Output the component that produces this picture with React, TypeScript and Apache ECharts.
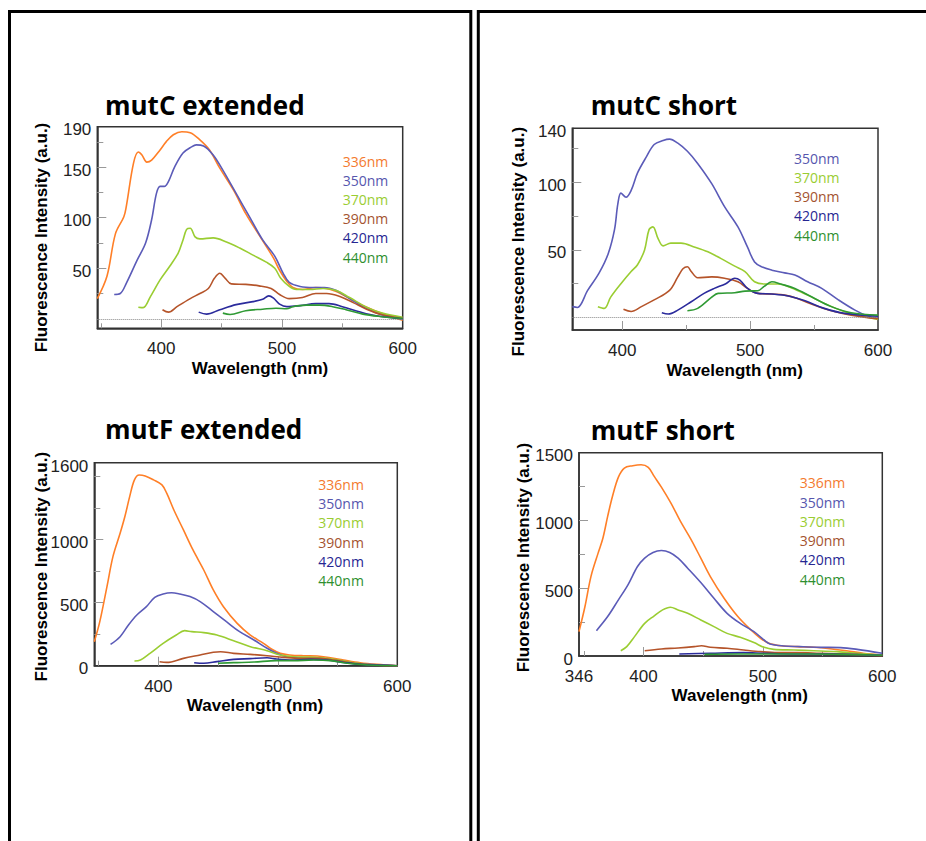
import React, { useEffect, useRef } from "react";
import * as echarts from "echarts";

// ---------- DATA ----------
const wavelengthsLabels = ["336nm", "350nm", "370nm", "390nm", "420nm", "440nm"];
const lineColors = ["#ff7f27", "#5b5bb8", "#9acd32", "#b5542a", "#2b2b9c", "#2f9a34"];
const legendColors = ["#f47a2e", "#5656ae", "#9acd32", "#a4532f", "#262692", "#2e8f2e"];

const titles = ["mutC extended", "mutC short", "mutF extended", "mutF short"];
const yAxisTitle = "Fluorescence Intensity (a.u.)";
const xAxisTitle = "Wavelength (nm)";

// mutC extended
const c1_336 = [[347,20],[355,42],[362,84],[369,101],[371,111],[377,154],[381,165],[384,162],[388,155],[392,157],[399,167],[404,175],[410,182],[417,185],[424,184],[432,177],[440,167],[448,150],[460,127],[470,104],[482,81],[493,60],[498,48],[504,37],[509,31],[517,29],[528,31],[537,30],[545,27],[553,22],[564,15],[575,9],[586,4],[600,-1.5]];
const c1_350 = [[361,24],[366,25],[371,35],[380,58],[387,75],[392,98],[396,124],[399,131],[402.5,131],[406,136],[411,150],[418,164],[425,170],[429,172],[435,171],[443,162],[451,147],[462,124],[473,101],[484,78],[494,62],[501,45],[506,36],[515,32],[526,31],[535,31],[545,28],[556,20],[567,12],[578,6],[589,2],[600,-0.3]];
const c1_370 = [[381,11.5],[385,11],[391,22],[399,38.5],[407,52],[414,65],[418,78],[421,88.5],[424,89.5],[428,81],[432,79],[443,80],[454,76],[465,70],[476,63],[487,56],[494,50],[499,40],[506,32],[512,29],[523,29],[534,30],[545,28],[556,21],[570,11.5],[583,5.6],[600,1.6]];
const c1_390 = [[401,9],[406,6.6],[413,12],[424,20],[432,25],[439,30],[444,40],[448.5,45],[453,40],[458,34.5],[470,34],[481,32.6],[491,30],[498,24],[506,20],[517,21],[528,25],[537,25],[548,22],[559,16],[570,9.5],[583,4],[600,0.3]];
const c1_420 = [[431,6.6],[437.5,4.6],[448.5,9],[462,14],[476,17],[484,19.4],[489,22.7],[493,20.4],[498,14.5],[504,12],[515,13],[528,15],[539,15],[550,12],[564,7],[578,3],[600,0]];
const c1_440 = [[451,5.6],[457,4.3],[470,8],[484,9.5],[495,10.5],[504,10],[509,12],[520,13.5],[531,13.5],[542,12],[553,9],[567,4.6],[581,2.3],[600,0.3]];

// mutC short
const c2_350 = [[361,8],[365,7.4],[373,20],[382,33],[389,47],[394,65],[396.6,84],[399,92],[403,89],[407,94],[412,107],[419,119],[425,128],[432,131],[437,132],[443.5,129],[451,123],[459,114],[470,99],[480,82],[490.5,67],[498,52],[503.5,41],[509,37.5],[517,35],[527,33],[535,31.4],[545,26.4],[556,21.5],[569,13],[582,5.4],[592,1],[600,-0.7]];
const c2_370 = [[381,8],[386,6.7],[391,15],[399,25],[407,34],[412,39],[417.5,50],[421,65],[424,67],[428,58.5],[432,53],[438,55],[446,55],[457,52],[467,48.6],[477,43.7],[488,38],[496,34],[503.5,26.4],[511,24.7],[522,24.7],[532,22],[545,16.5],[558,10.4],[574,4.2],[587,1],[600,-1.5]];
const c2_390 = [[401,6],[407,4.4],[415,8],[425,13],[437,20],[443.5,30],[447.5,36],[451,37.5],[454,34],[459,29.4],[470,30],[480,29],[490.5,26.4],[498,21.5],[505,18],[517,17.3],[527,16.5],[537,14],[550.5,9],[563.5,5],[579,1.7],[600,-1]];
const c2_420 = [[431,3.5],[436,2.5],[443.5,5.4],[454,11.6],[464,17.8],[472,21.5],[481,25],[488,29],[492,27.7],[498,21.5],[505,18],[517,17.3],[530,15.8],[543,12.3],[558,6.7],[574,3],[600,1]];
const c2_440 = [[451,5],[459,6.7],[470,15],[475,17.8],[488,18.3],[496,19.5],[506,19.8],[511,23],[517,26.4],[524,24.7],[535,21.5],[548,15.3],[563.5,8],[579,3.5],[600,1.7]];

// mutF extended
const c3_336 = [[346.4,190],[351,349],[357,627],[362,865],[368,1050],[372,1183],[376,1341],[380,1474],[384,1513],[389,1505],[396,1474],[403,1434],[407,1368],[413,1235],[421,1077],[429,918],[438,759],[446,601],[454.5,468],[466,336],[477,243],[488,177],[495,130],[502,98],[510,85],[521.5,79],[533,77],[544,63],[555,45],[569,24],[583,11],[600,0]];
const c3_350 = [[360,169],[368,230],[375,323],[382,402],[390,468],[397,542],[404,569],[411,579],[418,569],[426.5,548],[435,508],[446,429],[457,349],[468,270],[480,204],[491,138],[499,98],[507.5,71],[519,63],[533,58],[547,45],[561,24],[575,11],[600,0]];
const c3_370 = [[380,37],[385,45],[393,98],[404,177],[415,243],[422,278],[428,270],[438,262],[449,243],[463,198],[477,151],[491,119],[502,85],[513,71],[530,66],[547,50],[563,24],[580,5],[600,0]];
const c3_390 = [[401,32],[407,26],[421,58],[435,85],[446,106],[452,111],[463,98],[477,90],[491,79],[505,66],[519,58],[533,58],[547,45],[563,19],[580,5],[600,0]];
const c3_420 = [[430,24],[438,19],[449,32],[463,50],[477,56],[491,63],[499,53],[510,45],[527,50],[541,45],[555,26],[569,11],[600,0]];
const c3_440 = [[450,19],[463,24],[480,29],[499,40],[513,40],[530,45],[544,40],[558,19],[575,5],[600,0]];

// mutF short
const c4_336 = [[346,180],[351,365],[356,586],[362,759],[366,869],[370,1030],[374,1177],[379,1320],[384,1387],[391,1404],[398,1411],[404,1392],[409,1325],[415,1246],[423,1128],[431,993],[440,857],[448,722],[456,586],[467.5,426],[479,291],[490,192],[498,131],[505,94],[515,76],[529,69],[542.5,64],[556,54],[570,39],[584,20],[600,7]];
const c4_350 = [[360.6,187],[370,291],[379,414],[387,525],[395,660],[401,722],[408,764],[415,778],[422,764],[429,722],[437,648],[448,542],[459,426],[470,315],[481,241],[492.5,180],[501,118],[506,89],[517.5,74],[531,69],[548,64],[565,62],[579,49],[600,20]];
const c4_370 = [[381,39],[386,69],[392.5,143],[401,241],[409,296],[416,340],[422.5,360],[429,340],[437,315],[448,266],[459,217],[470,167],[481,138],[492.5,99],[501,64],[509,49],[526,44],[542.5,39],[562,32],[579,20],[600,5]];
const c4_390 = [[401,39],[415,52],[429,59],[442.5,69],[448.6,76],[456,64],[470,57],[484,44],[498,32],[512,25],[529,25],[548,20],[567.5,15],[600,2]];
const c4_420 = [[430,15],[456,20],[484,25],[501,20],[526,15],[554,15],[600,5]];
const c4_440 = [[451,12],[479,15],[506,15],[540,15],[567.5,12],[600,5]];

// axis ranges and ticks
const xRanges = [[347, 600], [361, 600], [346.4, 600], [346, 600]];
const yRanges = [[-9.4, 190], [-9.3, 140], [0, 1610], [0, 1500]];
const xLabelValues = [[400, 500, 600], [400, 500, 600], [400, 500, 600], [346, 400, 500, 600]];
const xMajorTicks = [[400, 500], [400, 500], [400, 500], [400, 500]];
const xMinorTicks = [[350, 450, 550], [450, 550], [350, 450, 550], [350, 450, 550]];
const yLabelValues = [[50, 100, 150, 190], [50, 100, 140], [0, 500, 1000, 1600], [0, 500, 1000, 1500]];
const yMajorTicks = [[50, 100, 150], [50, 100], [500, 1000], [500, 1000]];
const yMinorTicks = [[25, 75, 125, 175], [25, 75, 125], [250, 750, 1250, 1500], [250, 750, 1250]];

const chartSeries = [
  [c1_336, c1_350, c1_370, c1_390, c1_420, c1_440],
  [null, c2_350, c2_370, c2_390, c2_420, c2_440],
  [c3_336, c3_350, c3_370, c3_390, c3_420, c3_440],
  [c4_336, c4_350, c4_370, c4_390, c4_420, c4_440],
];
const zeroLine = [true, true, false, false];

// ---------- LAYOUT ----------
const grids = [
  { left: 97.3, top: 126.7, width: 305.4, height: 201.6 },
  { left: 572.3, top: 128.3, width: 305.7, height: 201.7 },
  { left: 94.3, top: 462.7, width: 303, height: 203 },
  { left: 579, top: 452.7, width: 303.3, height: 203.3 },
];
const titlePos = [[105, 105], [590.7, 105], [105, 429], [590.7, 430]];
const yNamePos = [[41.7, 237.5], [518, 241.7], [41.7, 566.7], [523, 557.5]];
const xNamePos = [[260, 368], [734.7, 370], [255, 705], [739.7, 695.7]];
const legendX = [342.7, 794, 318.3, 799.7];
const legendY0 = [161, 158.3, 484.3, 482.7];
const legendStep = [19.2, 19.2, 19.3, 19.3];

const TICK_FONT = "'Liberation Sans', Arial, sans-serif";
const plain = (v: number) => String(v);

function buildOption() {
  const xAxis: any[] = [];
  const yAxis: any[] = [];
  const series: any[] = [];
  const graphic: any[] = [];

  // panel borders
  graphic.push({ type: "rect", shape: { x: 9.5, y: 11.5, width: 461.3, height: 900 }, style: { fill: "none", stroke: "#000", lineWidth: 3 }, silent: true });
  graphic.push({ type: "rect", shape: { x: 478.3, y: 11.5, width: 500, height: 900 }, style: { fill: "none", stroke: "#000", lineWidth: 3 }, silent: true });

  grids.forEach((g, i) => {
    const [xmin, xmax] = xRanges[i];
    const [ymin, ymax] = yRanges[i];
    xAxis.push({
      type: "value", gridIndex: i, min: xmin, max: xmax, position: "bottom",
      axisLine: { show: true, onZero: false, lineStyle: { color: "#333", width: 1.5 } },
      axisTick: { show: true, inside: true, length: 9, customValues: xMajorTicks[i], lineStyle: { color: "#999", width: 1 } },
      axisLabel: { show: true, customValues: xLabelValues[i], formatter: plain, margin: 12, fontSize: 17, color: "#222", fontFamily: TICK_FONT },
      splitLine: { show: false },
    });
    xAxis.push({
      type: "value", gridIndex: i, min: xmin, max: xmax, position: "bottom",
      axisLine: { show: false, onZero: false },
      axisTick: { show: true, inside: true, length: 5, customValues: xMinorTicks[i], lineStyle: { color: "#999", width: 1 } },
      axisLabel: { show: false },
      splitLine: { show: false },
    });
    yAxis.push({
      type: "value", gridIndex: i, min: ymin, max: ymax, position: "left",
      axisLine: { show: true, onZero: false, lineStyle: { color: "#333", width: 1.5 } },
      axisTick: { show: true, inside: true, length: 9, customValues: yMajorTicks[i], lineStyle: { color: "#999", width: 1 } },
      axisLabel: { show: true, customValues: yLabelValues[i], formatter: plain, margin: 6, fontSize: 17, color: "#222", fontFamily: TICK_FONT, verticalAlign: "top", lineHeight: 6 },
      splitLine: { show: false },
    });
    yAxis.push({
      type: "value", gridIndex: i, min: ymin, max: ymax, position: "left",
      axisLine: { show: false, onZero: false },
      axisTick: { show: true, inside: true, length: 6, customValues: yMinorTicks[i], lineStyle: { color: "#999", width: 1 } },
      axisLabel: { show: false },
      splitLine: { show: false },
    });

    let first = true;
    chartSeries[i].forEach((data, k) => {
      if (!data) return;
      const s: any = {
        type: "line", name: `${titles[i]} ${wavelengthsLabels[k]}`,
        xAxisIndex: 2 * i, yAxisIndex: 2 * i,
        data, showSymbol: false, symbol: "none", smooth: 0.35,
        lineStyle: { color: lineColors[k], width: 1.6 },
        itemStyle: { color: lineColors[k] },
        z: 3, silent: true,
      };
      if (first && zeroLine[i]) {
        s.markLine = {
          silent: true, symbol: ["none", "none"], label: { show: false },
          lineStyle: { type: "dotted", color: "#888", width: 1 },
          data: [{ yAxis: 0 }],
        };
      }
      first = false;
      series.push(s);
    });

    // legend texts
    let row = 0;
    chartSeries[i].forEach((data, k) => {
      if (!data) return;
      graphic.push({
        type: "text", x: legendX[i], y: legendY0[i] + row * legendStep[i], silent: true,
        style: { text: wavelengthsLabels[k], fill: legendColors[k], font: "14px 'Open Sans', sans-serif", textAlign: "left", textVerticalAlign: "middle" },
      });
      row++;
    });

    // title
    graphic.push({
      type: "text", x: titlePos[i][0], y: titlePos[i][1], silent: true,
      style: { text: titles[i], fill: "#000", font: "bold 26px 'Open Sans', sans-serif", textAlign: "left", textVerticalAlign: "middle" },
    });
    // axis names
    graphic.push({
      type: "text", x: yNamePos[i][0], y: yNamePos[i][1], rotation: Math.PI / 2, silent: true,
      style: { text: yAxisTitle, fill: "#000", font: `bold 17px ${TICK_FONT}`, textAlign: "center", textVerticalAlign: "middle" },
    });
    graphic.push({
      type: "text", x: xNamePos[i][0], y: xNamePos[i][1], silent: true,
      style: { text: xAxisTitle, fill: "#000", font: `bold 17px ${TICK_FONT}`, textAlign: "center", textVerticalAlign: "middle" },
    });
  });

  return {
    animation: false,
    backgroundColor: "#fff",
    grid: grids.map((g) => ({ ...g, show: true, borderColor: "#333", borderWidth: 1.5, backgroundColor: "transparent", containLabel: false })),
    xAxis, yAxis, series, graphic,
  };
}

export default function App() {
  const ref = useRef<HTMLDivElement>(null);
  useEffect(() => {
    if (!ref.current) return;
    const chart = echarts.init(ref.current, undefined, { renderer: "svg" });
    chart.setOption(buildOption() as any);
    return () => chart.dispose();
  }, []);
  return <div ref={ref} style={{ position: "fixed", left: 0, top: 0, width: 926, height: 841 }} />;
}
